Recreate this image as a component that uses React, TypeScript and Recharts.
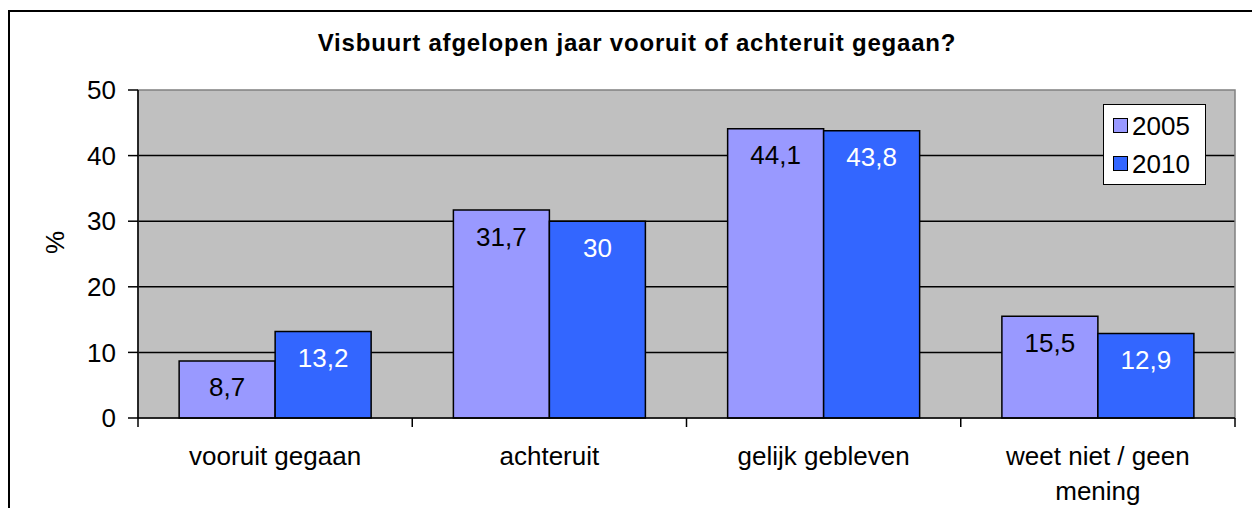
import React from "react";
import { Bar, BarChart, CartesianGrid, LabelList, Legend, ReferenceArea, XAxis, YAxis } from "recharts";

const categories = ["vooruit gegaan", "achteruit", "gelijk gebleven", "weet niet / geen mening"];
const values2005 = [8.7, 31.7, 44.1, 15.5];
const values2010 = [13.2, 30, 43.8, 12.9];
const yTicks = [0, 10, 20, 30, 40, 50];

const data = categories.map((name, i) => ({ name, y2005: values2005[i], y2010: values2010[i] }));

const FONT = "'Liberation Sans', Arial, sans-serif";
const fmt = (v: unknown) => String(v).replace(".", ",");

// simple word wrap by character count
function wrap(label: string, maxChars = 16) {
  const lines: string[] = [];
  let cur = "";
  for (const w of label.split(" ")) {
    const next = cur ? cur + " " + w : w;
    if (next.length > maxChars && cur) {
      lines.push(cur);
      cur = w;
    } else {
      cur = next;
    }
  }
  if (cur) lines.push(cur);
  return lines;
}

function CategoryTick(props: any) {
  const { x, y, payload, index } = props;
  const half = payload.offset ?? 0;
  const lines = wrap(String(payload.value));
  return (
    <g>
      <line x1={x - half} x2={x - half} y1={y} y2={y + 9} stroke="#000" strokeWidth={1.5} />
      {index === categories.length - 1 && (
        <line x1={x + half} x2={x + half} y1={y} y2={y + 9} stroke="#000" strokeWidth={1.5} />
      )}
      <text x={x} y={y + 47} textAnchor="middle" style={{ fontFamily: FONT, fontSize: 26, fill: "#000" }}>
        {lines.map((l, i) => (
          <tspan key={i} x={x} dy={i === 0 ? 0 : 35}>
            {l}
          </tspan>
        ))}
      </text>
    </g>
  );
}

function LegendBox() {
  const items = [
    { label: "2005", color: "#9999FF" },
    { label: "2010", color: "#3366FF" },
  ];
  return (
    <div
      style={{
        width: 103,
        height: 81,
        background: "#fff",
        border: "1.5px solid #000",
        fontFamily: FONT,
        fontSize: 26,
        color: "#000",
        display: "flex",
        flexDirection: "column",
        justifyContent: "center",
        gap: 8,
        paddingLeft: 9,
        boxSizing: "border-box",
      }}
    >
      {items.map((it) => (
        <div key={it.label} style={{ display: "flex", alignItems: "center", height: 30, lineHeight: "30px" }}>
          <span
            style={{
              display: "inline-block",
              width: 13,
              height: 13,
              background: it.color,
              border: "1.5px solid #000",
              marginRight: 4,
            }}
          />
          <span>{it.label}</span>
        </div>
      ))}
    </div>
  );
}

export default function App() {
  return (
    <div style={{ position: "absolute", left: 0, top: 0, width: 1252, height: 508, background: "#fff", overflow: "hidden" }}>
      <div
        style={{
          position: "absolute",
          left: 8,
          top: 10,
          width: 1400,
          height: 700,
          border: "2px solid #000",
        }}
      />
      <div
        style={{
          position: "absolute",
          left: 0,
          top: 29,
          width: 1274,
          textAlign: "center",
          fontFamily: FONT,
          fontWeight: "bold",
          fontSize: 24,
          letterSpacing: 0.8,
          color: "#000",
        }}
      >
        Visbuurt afgelopen jaar vooruit of achteruit gegaan?
      </div>
      <div style={{ position: "absolute", left: 0, top: 0 }}>
        <BarChart
          width={1252}
          height={508}
          data={data}
          margin={{ top: 90, right: 17, bottom: 30, left: 78 }}
          barCategoryGap="15%"
          barGap={0}
        >
          <CartesianGrid fill="#C0C0C0" vertical={false} stroke="#000" strokeWidth={1.5} horizontalValues={[10, 20, 30, 40]} />
          <ReferenceArea y1={0} y2={50} fill="none" stroke="#808080" strokeWidth={1.5} ifOverflow="visible" />
          <XAxis
            dataKey="name"
            height={60}
            axisLine={{ stroke: "#000", strokeWidth: 1.5 }}
            tickLine={false}
            tickSize={0}
            tickMargin={0}
            interval={0}
            tick={<CategoryTick />}
          />
          <YAxis
            width={60}
            domain={[0, 50]}
            ticks={yTicks}
            interval={0}
            axisLine={{ stroke: "#000", strokeWidth: 1.5 }}
            tickLine={{ stroke: "#000", strokeWidth: 1.5 }}
            tickSize={10}
            tickMargin={12}
            tick={{ fill: "#000", fontSize: 26, fontFamily: FONT }}
            label={{ value: "%", angle: -90, position: "insideLeft", offset: 0, dx: -23, style: { fill: "#000", fontSize: 26, fontFamily: FONT } }}
          />
          <Legend
            layout="horizontal"
            verticalAlign="middle"
            align="center"
            wrapperStyle={{ left: 1103, top: 104, width: 103, height: 81 }}
            content={() => <LegendBox />}
          />
          <Bar dataKey="y2005" name="2005" fill="#9999FF" stroke="#000" strokeWidth={1.5} isAnimationActive={false}>
            <LabelList dataKey="y2005" position="insideTop" offset={17} formatter={fmt} style={{ fill: "#000", fontSize: 26, fontFamily: FONT }} />
          </Bar>
          <Bar dataKey="y2010" name="2010" fill="#3366FF" stroke="#000" strokeWidth={1.5} isAnimationActive={false}>
            <LabelList dataKey="y2010" position="insideTop" offset={17} formatter={fmt} style={{ fill: "#fff", fontSize: 26, fontFamily: FONT }} />
          </Bar>
        </BarChart>
      </div>
    </div>
  );
}
